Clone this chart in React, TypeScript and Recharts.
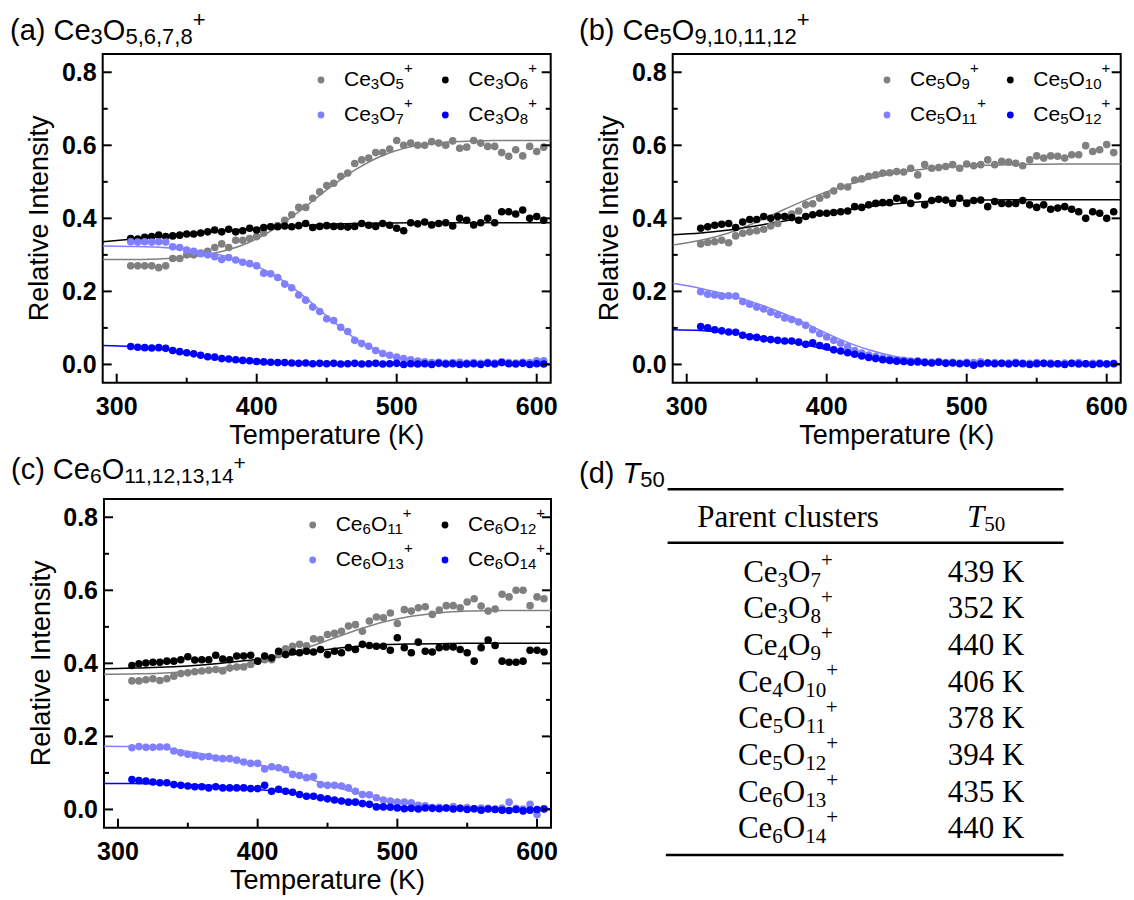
import { ComposedChart, Scatter, Line, XAxis, YAxis, Legend, ReferenceArea } from 'recharts'

const SANS = "'Liberation Sans', Arial, sans-serif"
const SERIF = "'Liberation Serif', 'Times New Roman', serif"

// temperatures of the measured points (K)
const temps = [
  310, 315, 320, 325, 330, 335, 340, 345, 350, 355,
  360, 365, 370, 375, 380, 385, 390, 395, 400, 405,
  410, 415, 420, 425, 430, 435, 440, 445, 450, 455,
  460, 465, 470, 475, 480, 485, 490, 495, 500, 505,
  510, 515, 520, 525, 530, 535, 540, 545, 550, 555,
  560, 565, 570, 575, 580, 585, 590, 595, 600, 605,
]
// temperatures where the fit curves were read
const fitTemps = [290, 310, 330, 350, 370, 390, 410, 430, 450, 470, 490, 510, 530, 550, 570, 590, 610]

const xTicks = [300, 350, 400, 450, 500, 550, 600]
const yTicks = [0, 0.1, 0.2, 0.3, 0.4, 0.5, 0.6, 0.7, 0.8]
const colors = ['#808080', '#000000', '#8080ff', '#0000ff']

// (a) Ce3O5,6,7,8+
const namesA = ['Ce3O5+', 'Ce3O6+', 'Ce3O7+', 'Ce3O8+']
const ce3o5 = [
  0.27, 0.27, 0.27, 0.27, 0.265, 0.27, 0.29, 0.29, 0.3, 0.3,
  0.305, 0.31, 0.32, 0.33, 0.32, 0.34, 0.34, 0.345, 0.35, 0.36,
  0.377, 0.38, 0.395, 0.41, 0.43, 0.43, 0.455, 0.473, 0.49, 0.496,
  0.515, 0.524, 0.55, 0.56, 0.565, 0.58, 0.58, 0.59, 0.613, 0.6,
  0.606, 0.6, 0.6, 0.61, 0.606, 0.6, 0.612, 0.592, 0.595, 0.613,
  0.606, 0.597, 0.597, 0.58, 0.57, 0.588, 0.571, 0.597, 0.583, 0.595,
]
const ce3o6 = [
  0.345, 0.343, 0.348, 0.35, 0.354, 0.35, 0.352, 0.354, 0.357, 0.357,
  0.36, 0.363, 0.368, 0.363, 0.37, 0.363, 0.366, 0.373, 0.368, 0.375,
  0.377, 0.377, 0.379, 0.377, 0.38, 0.386, 0.375, 0.378, 0.38, 0.378,
  0.378, 0.376, 0.378, 0.386, 0.381, 0.378, 0.386, 0.381, 0.373, 0.366,
  0.388, 0.385, 0.39, 0.382, 0.386, 0.388, 0.379, 0.4, 0.395, 0.382,
  0.388, 0.4, 0.388, 0.418, 0.418, 0.412, 0.423, 0.4, 0.405, 0.395,
]
const ce3o7 = [
  0.336, 0.335, 0.336, 0.335, 0.336, 0.335, 0.322, 0.32, 0.313, 0.31,
  0.303, 0.3, 0.295, 0.287, 0.293, 0.286, 0.28, 0.276, 0.27, 0.25,
  0.248, 0.238, 0.22, 0.21, 0.19, 0.176, 0.157, 0.145, 0.125, 0.12,
  0.102, 0.09, 0.066, 0.057, 0.05, 0.038, 0.03, 0.025, 0.02, 0.016,
  0.013, 0.009, 0.007, 0.005, 0.006, 0.004, 0.005, 0.006, 0.004, 0.005,
  0.003, 0.006, 0.004, 0.007, 0.005, 0.004, 0.006, 0.005, 0.01, 0.01,
]
const ce3o8 = [
  0.049, 0.047, 0.046, 0.045, 0.046, 0.044, 0.038, 0.035, 0.032, 0.029,
  0.025, 0.021, 0.02, 0.016, 0.015, 0.013, 0.011, 0.01, 0.008, 0.007,
  0.006, 0.005, 0.005, 0.004, 0.003, 0.004, 0.002, 0.003, 0.002, 0.003,
  0.001, 0.002, 0.003, 0.001, 0.002, 0.003, 0.001, 0.002, 0.003, 0.0,
  0.002, 0.001, 0.002, 0.0, 0.003, 0.001, 0.002, 0.0, 0.001, 0.002,
  0.0, 0.003, 0.001, 0.005, 0.002, 0.001, 0.003, 0.0, 0.002, 0.001,
]
const fitCe3o5 = [0.287, 0.287, 0.289, 0.294, 0.305, 0.327, 0.365, 0.418, 0.478, 0.532, 0.572, 0.596, 0.607, 0.611, 0.613, 0.613, 0.613]
const fitCe3o6 = [0.336, 0.343, 0.35, 0.357, 0.364, 0.37, 0.376, 0.38, 0.384, 0.386, 0.387, 0.388, 0.388, 0.388, 0.388, 0.388, 0.388]
const fitCe3o7 = [0.324, 0.323, 0.321, 0.315, 0.303, 0.283, 0.25, 0.198, 0.133, 0.072, 0.032, 0.013, 0.006, 0.003, 0.002, 0.002, 0.002]
const fitCe3o8 = [0.052, 0.049, 0.043, 0.029, 0.018, 0.01, 0.005, 0.002, 0.001, 0.001, 0, 0, 0, 0, 0, 0, 0]

// (b) Ce5O9,10,11,12+
const namesB = ['Ce5O9+', 'Ce5O10+', 'Ce5O11+', 'Ce5O12+']
const ce5o9 = [
  0.33, 0.334, 0.336, 0.34, 0.333, 0.352, 0.359, 0.363, 0.366, 0.37,
  0.379, 0.386, 0.405, 0.412, 0.42, 0.437, 0.44, 0.455, 0.464, 0.475,
  0.487, 0.486, 0.505, 0.508, 0.515, 0.519, 0.524, 0.525, 0.528, 0.527,
  0.537, 0.519, 0.547, 0.537, 0.539, 0.542, 0.547, 0.537, 0.549, 0.544,
  0.547, 0.56, 0.547, 0.556, 0.554, 0.551, 0.544, 0.56, 0.571, 0.565,
  0.571, 0.57, 0.565, 0.574, 0.574, 0.599, 0.583, 0.588, 0.602, 0.58,
]
const ce5o10 = [
  0.373, 0.377, 0.381, 0.384, 0.386, 0.375, 0.39, 0.397, 0.397, 0.405,
  0.4, 0.405, 0.405, 0.402, 0.395, 0.405, 0.41, 0.414, 0.414, 0.416,
  0.418, 0.42, 0.432, 0.43, 0.437, 0.441, 0.443, 0.443, 0.455, 0.45,
  0.441, 0.461, 0.437, 0.449, 0.452, 0.45, 0.441, 0.455, 0.441, 0.449,
  0.45, 0.432, 0.446, 0.441, 0.44, 0.441, 0.449, 0.437, 0.43, 0.437,
  0.425, 0.428, 0.432, 0.425, 0.418, 0.4, 0.418, 0.414, 0.4, 0.418,
]
const ce5o11 = [
  0.199, 0.192, 0.19, 0.187, 0.188, 0.187, 0.172, 0.165, 0.157, 0.152,
  0.143, 0.136, 0.127, 0.123, 0.116, 0.107, 0.095, 0.084, 0.075, 0.066,
  0.058, 0.048, 0.038, 0.031, 0.026, 0.022, 0.018, 0.016, 0.013, 0.011,
  0.009, 0.01, 0.007, 0.006, 0.008, 0.005, 0.006, 0.004, 0.006, 0.005,
  0.007, 0.004, 0.005, 0.003, 0.004, 0.006, 0.004, 0.003, 0.005, 0.003,
  0.004, 0.002, 0.004, 0.003, 0.005, 0.002, 0.003, 0.004, 0.002, 0.003,
]
const ce5o12 = [
  0.104, 0.1, 0.095, 0.092, 0.089, 0.088, 0.08, 0.076, 0.074, 0.07,
  0.068, 0.066, 0.064, 0.064, 0.061, 0.055, 0.059, 0.052, 0.048, 0.04,
  0.037, 0.032, 0.028, 0.023, 0.019, 0.016, 0.013, 0.011, 0.009, 0.008,
  0.006, 0.007, 0.005, 0.004, 0.006, 0.003, 0.004, 0.002, 0.003, -0.002,
  0.002, 0.004, 0.002, 0.003, 0.001, 0.003, 0.002, 0.0, 0.002, 0.003,
  0.001, 0.002, 0.0, 0.003, 0.001, 0.002, 0.0, 0.002, 0.001, 0.002,
]
const fitCe5o9 = [0.327, 0.34, 0.36, 0.39, 0.425, 0.458, 0.486, 0.508, 0.524, 0.535, 0.541, 0.545, 0.547, 0.548, 0.549, 0.549, 0.549]
const fitCe5o10 = [0.355, 0.36, 0.368, 0.38, 0.393, 0.407, 0.42, 0.432, 0.44, 0.446, 0.449, 0.45, 0.451, 0.451, 0.451, 0.451, 0.451]
const fitCe5o11 = [0.222, 0.208, 0.19, 0.167, 0.138, 0.103, 0.068, 0.04, 0.021, 0.011, 0.006, 0.004, 0.003, 0.002, 0.002, 0.002, 0.002]
const fitCe5o12 = [0.095, 0.093, 0.087, 0.077, 0.064, 0.049, 0.034, 0.021, 0.012, 0.007, 0.004, 0.003, 0.002, 0.002, 0.002, 0.002, 0.002]

// (c) Ce6O11,12,13,14+
const namesC = ['Ce6O11+', 'Ce6O12+', 'Ce6O13+', 'Ce6O14+']
const ce6o11 = [
  0.352, 0.352, 0.355, 0.358, 0.353, 0.358, 0.365, 0.372, 0.374, 0.377,
  0.379, 0.381, 0.383, 0.379, 0.387, 0.39, 0.39, 0.397, 0.406, 0.41,
  0.41, 0.424, 0.44, 0.447, 0.452, 0.448, 0.467, 0.465, 0.479, 0.482,
  0.488, 0.502, 0.506, 0.488, 0.516, 0.527, 0.525, 0.538, 0.509, 0.547,
  0.543, 0.552, 0.555, 0.534, 0.546, 0.558, 0.558, 0.552, 0.568, 0.577,
  0.557, 0.543, 0.549, 0.589, 0.582, 0.6, 0.6, 0.558, 0.582, 0.577,
]
const ce6o12 = [
  0.394, 0.399, 0.401, 0.403, 0.403, 0.406, 0.406, 0.41, 0.418, 0.409,
  0.41, 0.41, 0.422, 0.412, 0.41, 0.42, 0.42, 0.422, 0.406, 0.42,
  0.415, 0.433, 0.424, 0.431, 0.429, 0.433, 0.431, 0.438, 0.424, 0.433,
  0.429, 0.443, 0.438, 0.452, 0.449, 0.447, 0.447, 0.436, 0.47, 0.443,
  0.429, 0.458, 0.433, 0.431, 0.443, 0.445, 0.445, 0.438, 0.429, 0.406,
  0.443, 0.464, 0.449, 0.406, 0.403, 0.403, 0.406, 0.436, 0.436, 0.431,
]
const ce6o13 = [
  0.169, 0.172, 0.17, 0.17, 0.171, 0.171, 0.16, 0.155, 0.151, 0.148,
  0.144, 0.145, 0.141, 0.139, 0.139, 0.135, 0.13, 0.126, 0.126, 0.111,
  0.117, 0.114, 0.109, 0.096, 0.093, 0.087, 0.09, 0.068, 0.066, 0.066,
  0.064, 0.059, 0.05, 0.041, 0.04, 0.032, 0.026, 0.023, 0.02, 0.02,
  0.018, 0.011, 0.01, 0.005, 0.006, 0.004, 0.008, 0.003, 0.005, 0.002,
  0.004, 0.003, 0.001, 0.004, 0.02, 0.003, 0.001, 0.014, -0.014, 0.002,
]
const ce6o14 = [
  0.082, 0.079, 0.078, 0.075, 0.073, 0.073, 0.068, 0.066, 0.064, 0.062,
  0.062, 0.059, 0.062, 0.059, 0.059, 0.059, 0.059, 0.057, 0.057, 0.066,
  0.05, 0.055, 0.05, 0.047, 0.041, 0.036, 0.036, 0.032, 0.029, 0.026,
  0.023, 0.02, 0.02, 0.016, 0.014, 0.007, 0.007, 0.006, 0.004, 0.002,
  0.003, 0.001, 0.004, 0.003, 0.002, 0.004, 0.001, 0.003, 0.0, 0.002,
  -0.002, 0.001, 0.0, -0.002, -0.003, 0.0, -0.004, -0.002, 0.0, 0.001,
]
const fitCe6o11 = [0.37, 0.371, 0.373, 0.378, 0.386, 0.397, 0.413, 0.436, 0.463, 0.49, 0.513, 0.529, 0.538, 0.543, 0.545, 0.545, 0.545]
const fitCe6o12 = [0.385, 0.387, 0.389, 0.393, 0.399, 0.407, 0.416, 0.427, 0.438, 0.446, 0.451, 0.453, 0.454, 0.455, 0.455, 0.455, 0.455]
const fitCe6o13 = [0.173, 0.172, 0.168, 0.159, 0.146, 0.131, 0.114, 0.092, 0.068, 0.046, 0.028, 0.016, 0.009, 0.005, 0.003, 0.002, 0.002]
const fitCe6o14 = [0.071, 0.071, 0.07, 0.068, 0.065, 0.059, 0.051, 0.041, 0.029, 0.019, 0.011, 0.006, 0.004, 0.003, 0.002, 0.002, 0.002]

// (d) T50 table
const parentClusters = ['Ce3O7+', 'Ce3O8+', 'Ce4O9+', 'Ce4O10+', 'Ce5O11+', 'Ce5O12+', 'Ce6O13+', 'Ce6O14+']
const t50 = [439, 352, 440, 406, 378, 394, 435, 440]

const toPoints = (xs: number[], ys: number[]) => xs.map((t, i) => ({ t, v: ys[i] }))

// splits "Ce3O5+" into tspans: digits/commas subscript, "+" superscript
function Formula({ text, size, small, subDy, supDy }: any) {
  const parts: string[] = text.match(/[\d,]+|\+|[^\d,+]+/g) || []
  let cur = 0
  return (
    <>
      {parts.map((p, i) => {
        const sub = /^[\d,]+$/.test(p)
        const sup = p === '+'
        const target = sub ? subDy : sup ? supDy : 0
        const dy = target - cur
        cur = target
        return (
          <tspan key={i} dy={dy} fontSize={sub || sup ? small : size}>
            {p}
          </tspan>
        )
      })}
    </>
  )
}

function XTick(props: any) {
  const { x, y, payload } = props
  const v = payload.value
  const major = v % 100 === 0
  return (
    <g>
      <line x1={x} x2={x} y1={y} y2={y - (major ? 9 : 5)} stroke="#000" strokeWidth={2} />
      {major && (
        <text x={x} y={y + 32} textAnchor="middle" fontFamily={SANS} fontWeight="bold" fontSize={25} fill="#000">
          {v}
        </text>
      )}
    </g>
  )
}

function YTickLeft(props: any) {
  const { x, y, payload } = props
  const v = payload.value
  const major = Math.round(v * 10) % 2 === 0
  return (
    <g>
      <line x1={x} x2={x + (major ? 9 : 5)} y1={y} y2={y} stroke="#000" strokeWidth={2} />
      {major && (
        <text x={x - 6} y={y + 8.8} textAnchor="end" fontFamily={SANS} fontWeight="bold" fontSize={25} fill="#000">
          {v.toFixed(1)}
        </text>
      )}
    </g>
  )
}

function YTickRight(props: any) {
  const { x, y, payload } = props
  const major = Math.round(payload.value * 10) % 2 === 0
  return <line x1={x} x2={x - (major ? 9 : 5)} y1={y} y2={y} stroke="#000" strokeWidth={2} />
}

function XTitle({ cx, by }: any) {
  return (
    <text x={cx} y={by} textAnchor="middle" fontFamily={SANS} fontSize={27} fill="#000">
      Temperature (K)
    </text>
  )
}

function YTitle({ bx, cy }: any) {
  return (
    <text x={bx} y={cy} transform={`rotate(-90, ${bx}, ${cy})`} textAnchor="middle" fontFamily={SANS} fontSize={27} fill="#000">
      Relative Intensity
    </text>
  )
}

function LegendBox({ payload, cols, names }: any) {
  const entries = (payload || []).filter((e: any) => e.type !== 'none')
  const items = names.map((n: string) => entries.find((e: any) => e.value === n)).filter(Boolean)
  return (
    <svg width={448} height={80} style={{ display: 'block', overflow: 'visible' }}>
      {items.map((e: any, i: number) => {
        const dx = cols[i % 2]
        const cy = 26 + Math.floor(i / 2) * 35
        return (
          <g key={i}>
            <circle cx={dx} cy={cy} r={3.4} fill={e.color} />
            <text x={dx + 23} y={cy + 6} fontFamily={SANS} fill="#000">
              <Formula text={e.value} size={21} small={15} subDy={2.7} supDy={-13.5} />
            </text>
          </g>
        )
      })}
    </svg>
  )
}

const panels = [
  {
    key: 'a', left: 0, top: 0, w: 570, h: 460,
    margin: { top: 54, right: 9.3, bottom: 15.3, left: 42.7 },
    legendCols: [218, 342.3],
    names: namesA, series: [ce3o5, ce3o6, ce3o7, ce3o8], fits: [fitCe3o5, fitCe3o6, fitCe3o7, fitCe3o8],
  },
  {
    key: 'b', left: 570, top: 0, w: 564, h: 460,
    margin: { top: 54, right: 3.3, bottom: 15.3, left: 42.7 },
    legendCols: [214, 337.3],
    names: namesB, series: [ce5o9, ce5o10, ce5o11, ce5o12], fits: [fitCe5o9, fitCe5o10, fitCe5o11, fitCe5o12],
  },
  {
    key: 'c', left: 0, top: 445.3, w: 570, h: 454,
    margin: { top: 54, right: 9, bottom: 9.3, left: 44 },
    legendCols: [208.7, 341],
    names: namesC, series: [ce6o11, ce6o12, ce6o13, ce6o14], fits: [fitCe6o11, fitCe6o12, fitCe6o13, fitCe6o14],
  },
]

function Panel({ p }: any) {
  const plotLeft = p.margin.left + 60
  const plotTop = p.margin.top
  const plotW = p.w - plotLeft - p.margin.right - 10
  const plotH = p.h - plotTop - p.margin.bottom - 62
  return (
    <div style={{ position: 'absolute', left: p.left, top: p.top }}>
      <ComposedChart width={p.w} height={p.h} margin={p.margin}>
        <XAxis
          type="number" dataKey="t" domain={[290, 610]} ticks={xTicks} interval={0} allowDataOverflow
          height={62} tickSize={0} tickMargin={0} tickLine={false} axisLine={false} tick={<XTick />}
          label={<XTitle cx={plotLeft + plotW / 2} by={plotTop + plotH + 61.3} />}
        />
        <YAxis
          yAxisId="l" type="number" domain={[-0.05, 0.85]} ticks={yTicks} interval={0} allowDataOverflow
          width={60} tickSize={0} tickMargin={0} tickLine={false} axisLine={false} tick={<YTickLeft />}
          label={<YTitle bx={plotLeft - 54.4} cy={plotTop + plotH / 2} />}
        />
        <YAxis
          yAxisId="r" orientation="right" type="number" domain={[-0.05, 0.85]} ticks={yTicks} interval={0} allowDataOverflow
          width={10} tickSize={0} tickMargin={0} tickLine={false} axisLine={false} tick={<YTickRight />}
        />
        <ReferenceArea yAxisId="l" x1={290} x2={610} y1={-0.05} y2={0.85} fill="none" stroke="#000" strokeWidth={2} ifOverflow="visible" />
        {p.series.map((s: number[], i: number) => (
          <Scatter
            key={'s' + i} yAxisId="l" name={p.names[i]} data={toPoints(temps, s)} dataKey="v" fill={colors[i]}
            isAnimationActive={false}
            shape={(q: any) => <circle cx={q.cx} cy={q.cy} r={3.8} fill={colors[i]} />}
          />
        ))}
        {p.fits.map((f: number[], i: number) => (
          <Line
            key={'f' + i} yAxisId="l" data={toPoints(fitTemps, f)} dataKey="v" type="monotone" stroke={colors[i]}
            strokeWidth={1.5} dot={false} activeDot={false} legendType="none" isAnimationActive={false}
          />
        ))}
        <Legend
          layout="horizontal" verticalAlign="middle" align="center"
          wrapperStyle={{ left: plotLeft, top: plotTop, width: 448, height: 80 }}
          content={(props: any) => <LegendBox {...props} cols={p.legendCols} names={p.names} />}
        />
      </ComposedChart>
    </div>
  )
}

function Overlay() {
  const rowY = (i: number) => 581.7 + i * 36.67
  return (
    <svg width={1134} height={900} style={{ position: 'absolute', left: 0, top: 0, pointerEvents: 'none' }}>
      <text x={10} y={39.5} fontFamily={SANS} fill="#000">
        <Formula text="(a) Ce3O5,6,7,8+" size={29} small={22} subDy={4} supDy={-12.5} />
      </text>
      <text x={579} y={39.5} fontFamily={SANS} fill="#000">
        <Formula text="(b) Ce5O9,10,11,12+" size={29} small={22} subDy={4} supDy={-12.5} />
      </text>
      <text x={11} y={479.3} fontFamily={SANS} fill="#000">
        <Formula text="(c) Ce6O11,12,13,14+" size={29} small={21} subDy={4} supDy={-9.5} />
      </text>
      <text x={579} y={483} fontFamily={SANS} fontSize={29} fill="#000">
        <tspan>(d) </tspan>
        <tspan fontStyle="italic">T</tspan>
        <tspan fontSize={22} dy={4}>50</tspan>
      </text>

      <line x1={667.6} x2={1063.5} y1={489.3} y2={489.3} stroke="#000" strokeWidth={2.5} />
      <line x1={667.6} x2={1063.5} y1={542.7} y2={542.7} stroke="#000" strokeWidth={2.5} />
      <line x1={665.8} x2={1063.5} y1={855} y2={855} stroke="#000" strokeWidth={2.5} />

      <text x={788} y={527.3} textAnchor="middle" fontFamily={SERIF} fontSize={31} fill="#000">
        Parent clusters
      </text>
      <text x={986} y={527.3} textAnchor="middle" fontFamily={SERIF} fontSize={31} fill="#000">
        <tspan fontStyle="italic">T</tspan>
        <tspan fontSize={21} dy={3.4}>50</tspan>
      </text>

      {parentClusters.map((c, i) => (
        <text key={'c' + i} x={788} y={rowY(i)} textAnchor="middle" fontFamily={SERIF} fill="#000">
          <Formula text={c} size={31} small={21} subDy={5} supDy={-14.7} />
        </text>
      ))}
      {t50.map((v, i) => (
        <text key={'t' + i} x={986} y={rowY(i)} textAnchor="middle" fontFamily={SERIF} fontSize={31} fill="#000">
          {v} K
        </text>
      ))}
    </svg>
  )
}

export default function App() {
  return (
    <div style={{ position: 'absolute', left: 0, top: 0, width: 1134, height: 900, background: '#fff', overflow: 'hidden' }}>
      {panels.map((p) => (
        <Panel key={p.key} p={p} />
      ))}
      <Overlay />
    </div>
  )
}
